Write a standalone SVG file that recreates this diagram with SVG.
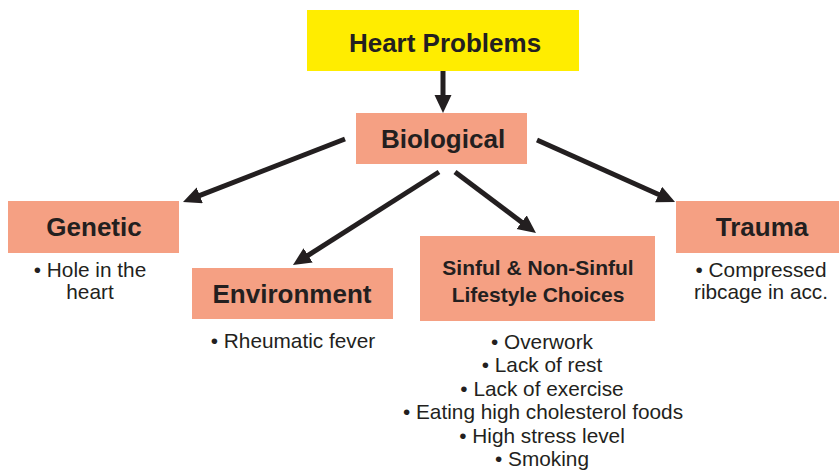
<svg xmlns="http://www.w3.org/2000/svg" width="839" height="470" viewBox="0 0 839 470">
<defs>
<style>
.box{fill:#F5A083}
.top{fill:#FFED00}
.h{font-family:"Liberation Sans",Arial,sans-serif;font-weight:bold;font-size:26px;fill:#231F20;text-anchor:middle}
.h2{font-family:"Liberation Sans",Arial,sans-serif;font-weight:bold;font-size:21px;fill:#231F20;text-anchor:middle}
.t{font-family:"Liberation Sans",Arial,sans-serif;font-size:20.8px;fill:#231F20;text-anchor:middle}
.c{stroke:#231F20;stroke-width:5;fill:none;marker-end:url(#ah)}
</style>
<marker id="ah" markerUnits="userSpaceOnUse" markerWidth="20" markerHeight="18" refX="8" refY="8.5" orient="auto">
<path d="M0,0 L18,8.5 L0,17 z" fill="#231F20"/>
</marker>
</defs>
<g id="connectors">
<line class="c" x1="443" y1="71" x2="443" y2="103"/>
<line class="c" x1="345" y1="139" x2="192.3" y2="198.3"/>
<line class="c" x1="439" y1="172" x2="301.4" y2="259.6"/>
<line class="c" x1="455" y1="172" x2="528" y2="227"/>
<line class="c" x1="537" y1="140" x2="665.9" y2="197.8"/>
</g>
<g id="heart-problems">
<rect class="top" x="307" y="10" width="272" height="61"/>
<text class="h" x="445" y="52">Heart Problems</text>
</g>
<g id="biological">
<rect class="box" x="356" y="113" width="171" height="51"/>
<text class="h" x="443" y="148">Biological</text>
</g>
<g id="genetic">
<rect class="box" x="8" y="201" width="171" height="52"/>
<text class="h" x="94" y="236">Genetic</text>
<text class="t" x="90" y="277">• Hole in the</text>
<text class="t" x="90" y="299">heart</text>
</g>
<g id="environment">
<rect class="box" x="192" y="268" width="201" height="51"/>
<text class="h" x="292" y="303">Environment</text>
<text class="t" x="293" y="348">• Rheumatic fever</text>
</g>
<g id="lifestyle">
<rect class="box" x="420" y="236" width="235" height="85"/>
<text class="h2" x="538" y="275">Sinful &amp; Non-Sinful</text>
<text class="h2" x="538" y="302">Lifestyle Choices</text>
<text class="t" x="542" y="349">• Overwork</text>
<text class="t" x="542" y="372">• Lack of rest</text>
<text class="t" x="542" y="396">• Lack of exercise</text>
<text class="t" x="543" y="419">• Eating high cholesterol foods</text>
<text class="t" x="542" y="443">• High stress level</text>
<text class="t" x="542" y="466">• Smoking</text>
</g>
<g id="trauma">
<rect class="box" x="676" y="201" width="163" height="52"/>
<text class="h" x="762" y="236">Trauma</text>
<text class="t" x="761" y="277">• Compressed</text>
<text class="t" x="761" y="299">ribcage in acc.</text>
</g>
</svg>
